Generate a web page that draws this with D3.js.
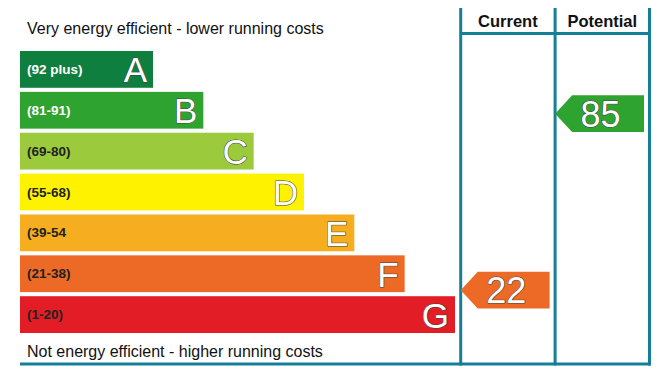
<!DOCTYPE html>
<html><head><meta charset="utf-8">
<script src="https://cdn.jsdelivr.net/npm/d3@7"></script>
<style>html,body{margin:0;padding:0;background:#fff;} svg{display:block;font-family:"Liberation Sans",Arial,sans-serif;}</style>
</head><body>
<script>
const letters = ["A","B","C","D","E","F","G"];
const ranges = ["(92 plus)","(81-91)","(69-80)","(55-68)","(39-54","(21-38)","(1-20)"];
const colors = ["#0f7f40","#2fa32f","#9bca3c","#fff200","#f6ad1f","#ec6a25","#e21d25"];
const rangeTextColors = ["#fff","#fff","#222","#222","#222","#222","#222"];
const bandTops = [100, 91, 80, 68, 54, 38, 20, 0];
const columns = ["Current","Potential"];
const ratings = [22, 85];
const ratingColors = ["#ec6a25","#2fa32f"];
const topText = "Very energy efficient - lower running costs";
const bottomText = "Not energy efficient - higher running costs";

const W = 659, H = 374;
const svg = d3.select("body").append("svg").attr("width", W).attr("height", H);
const teal = "#157f98";

const y = d3.scaleBand().domain(letters).range([51, 333]).paddingInner(0.1).paddingOuter(0);
const barEnd = d3.scaleLinear().domain([0, 6]).range([153, 455]);
const x0 = 20;

const yScore = d3.scaleLinear().domain(bandTops)
  .range(letters.map(l => y(l)).concat([y("G") + y.step()]));

const colX = d3.scalePoint().domain(["L0","L1","L2"]).range([460.7, 649.5]);
const colLeft = i => colX("L" + i), colRight = i => colX("L" + (i + 1));

// bars
const g = svg.append("g");
g.selectAll("rect.bar").data(letters).join("rect")
  .attr("x", x0).attr("y", d => y(d))
  .attr("width", (d, i) => barEnd(i) - x0).attr("height", y.bandwidth())
  .attr("fill", (d, i) => colors[i]);
g.selectAll("text.range").data(ranges).join("text")
  .attr("x", 27).attr("y", (d, i) => y(letters[i]) + y.bandwidth() / 2 + 4.5)
  .attr("font-size", 13.5).attr("font-weight", "bold")
  .attr("fill", (d, i) => rangeTextColors[i]).text(d => d);
g.selectAll("text.letter").data(letters).join("text")
  .attr("x", (d, i) => barEnd(i) - 6).attr("y", d => y(d) + y.bandwidth() - 5.5)
  .attr("text-anchor", "end").attr("font-size", 35)
  .attr("fill", "#fff").attr("stroke", "#444").attr("stroke-width", 1.1)
  .attr("paint-order", "stroke")
  .text(d => d);

svg.append("text").attr("x", 27).attr("y", 34).attr("font-size", 16).attr("fill", "#111").text(topText);
svg.append("text").attr("x", 27).attr("y", 357).attr("font-size", 16).attr("fill", "#111").text(bottomText);

// grid lines
const lw = 3;
svg.selectAll("line.v").data([0, 1, 2]).join("line")
  .attr("x1", i => colX("L" + i)).attr("x2", i => colX("L" + i))
  .attr("y1", 8).attr("y2", 365.5)
  .attr("stroke", teal).attr("stroke-width", lw);
svg.append("line").attr("x1", colLeft(0)).attr("x2", colRight(1)).attr("y1", 33.5).attr("y2", 33.5)
  .attr("stroke", teal).attr("stroke-width", lw);
svg.append("line").attr("x1", x0).attr("x2", colRight(1) + 1.5).attr("y1", 364).attr("y2", 364)
  .attr("stroke", teal).attr("stroke-width", lw);

svg.selectAll("text.col").data(columns).join("text")
  .attr("x", (d, i) => (colLeft(i) + colRight(i)) / 2).attr("y", 26.5)
  .attr("text-anchor", "middle").attr("font-size", 16.5).attr("font-weight", "bold")
  .attr("fill", "#111").text(d => d);

// arrows
const h = y.bandwidth();
ratings.forEach((r, i) => {
  const cy = yScore(r) - (i === 0 ? 1.5 : 0.5);
  const tip = colLeft(i), right = colRight(i) - 5.5, head = 17;
  const p = d3.path();
  p.moveTo(tip, cy); p.lineTo(tip + head, cy - h / 2); p.lineTo(right, cy - h / 2);
  p.lineTo(right, cy + h / 2); p.lineTo(tip + head, cy + h / 2); p.closePath();
  svg.append("path").attr("d", p.toString()).attr("fill", ratingColors[i]);
  svg.append("text").attr("x", (tip + right) / 2 + 1).attr("y", cy + 13)
    .attr("text-anchor", "middle").attr("font-size", 36)
    .attr("fill", "#fff").attr("stroke", "#444").attr("stroke-width", 1.1)
    .attr("paint-order", "stroke").text(r);
});
</script>
</body></html>
